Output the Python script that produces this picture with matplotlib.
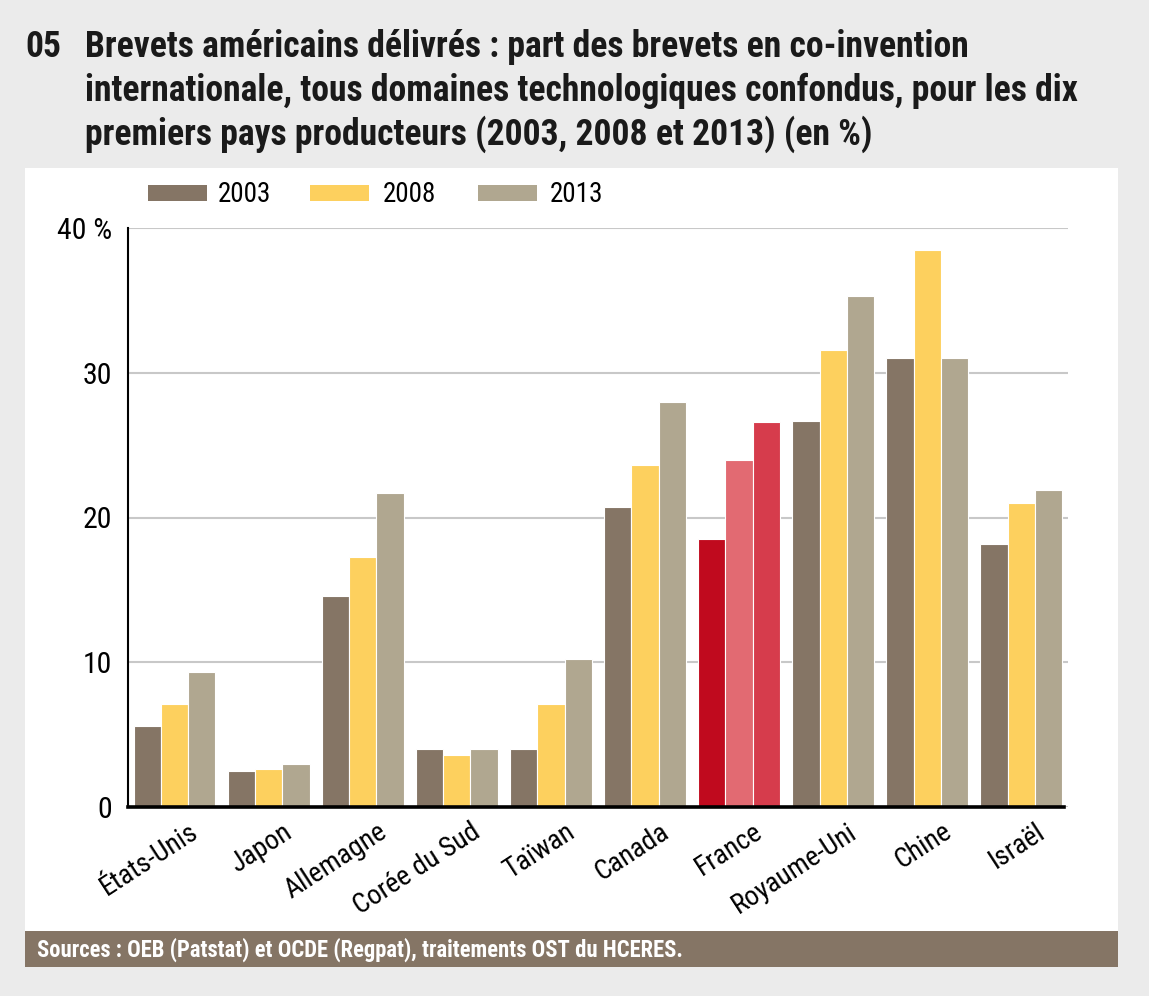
import matplotlib
matplotlib.use("Agg")
import matplotlib.pyplot as plt
from matplotlib import font_manager
from matplotlib.patches import Rectangle
from matplotlib.transforms import ScaledTranslation
import numpy as np

# === DONNÉES ===
pays = ["États-Unis", "Japon", "Allemagne", "Corée du Sud", "Taïwan",
        "Canada", "France", "Royaume-Uni", "Chine", "Israël"]
annees = ["2003", "2008", "2013"]
v2003 = [5.6, 2.5, 14.6, 4.0, 4.0, 20.7, 18.5, 26.7, 31.0, 18.2]
v2008 = [7.1, 2.6, 17.3, 3.6, 7.1, 23.6, 24.0, 31.6, 38.5, 21.0]
v2013 = [9.3, 3.0, 21.7, 4.0, 10.2, 28.0, 26.6, 35.3, 31.0, 21.9]
yticks = [0, 10, 20, 30, 40]
ylabels = ["0", "10", "20", "30", "40 %"]
titre_lignes = [
    "Brevets américains délivrés : part des brevets en co-invention",
    "internationale, tous domaines technologiques confondus, pour les dix",
    "premiers pays producteurs (2003, 2008 et 2013) (en %)",
]

# === STYLE ===
COLS = ["#857565", "#fdd05e", "#b0a790"]
COLS_FR = ["#c00a1e", "#e26a72", "#d63c4c"]
BG = "#ebebeb"

installed = {f.name for f in font_manager.fontManager.ttflist}
narrow = [f for f in ["Liberation Sans Narrow", "Roboto Condensed", "Arial Narrow"] if f in installed]
FAM = (narrow[:1] or ["Roboto"]) + ["DejaVu Sans"]
plt.rcParams["font.family"] = FAM

W, H = 1149, 996
fig = plt.figure(figsize=(W / 100, H / 100), dpi=100, facecolor=BG)

def px(x0, y0, x1, y1):
    return [x0 / W, 1 - y1 / H, (x1 - x0) / W, (y1 - y0) / H]

# panneau blanc + bandeau sources
fig.patches.append(Rectangle((25 / W, 1 - 931 / H), (1118 - 25) / W, (931 - 168) / H,
                             transform=fig.transFigure, facecolor="white", edgecolor="none", zorder=0))
fig.patches.append(Rectangle((25 / W, 1 - 967 / H), (1118 - 25) / W, (967 - 931) / H,
                             transform=fig.transFigure, facecolor="#857565", edgecolor="none", zorder=0))
fig.text(37 / W, 1 - 950 / H, "Sources : OEB (Patstat) et OCDE (Regpat), traitements OST du HCERES.",
         color="white", fontsize=16.3, fontweight="bold", va="center", ha="left")

# titre : une ligne par texte, largeur ajustée (~997 px pour la 2e ligne)
r = fig.canvas.get_renderer()
probe = fig.text(0, 0, titre_lignes[1], fontsize=24, fontweight="bold")
fs = 24 * 997 / probe.get_window_extent(r).width
probe.remove()
fig.text(25 / W, 1 - 57 / H, "05", fontsize=fs, fontweight="bold", va="baseline", ha="left",
         color="#1a1a1a")
for i, ligne in enumerate(titre_lignes):
    fig.text(85 / W, 1 - (57 + 44 * i) / H, ligne, fontsize=fs, fontweight="bold",
             va="baseline", ha="left", color="#1a1a1a")

# === GRAPHIQUE ===
ax = fig.add_axes(px(128, 228, 1068, 807))
ax.set_zorder(2)
ax.set_facecolor("none")
x = np.arange(len(pays))
w = 0.29
series = [v2003, v2008, v2013]
for k, vals in enumerate(series):
    cols = [COLS_FR[k] if p == "France" else COLS[k] for p in pays]
    ax.bar(x + (k - 1) * w, vals, width=w, color=cols, edgecolor="white",
           linewidth=0.8, zorder=3)

ax.set_ylim(0, 40)
ax.set_xlim(-0.494, 9.495)
ax.set_yticks(yticks)
ax.set_yticklabels(ylabels)
ax.yaxis.grid(True, color="#c8c8c8", linewidth=1.5, zorder=0)
ax.tick_params(axis="y", length=0, pad=11.5, labelsize=21.5)
ax.tick_params(axis="x", length=0, pad=8, labelsize=20)
for s in ["top", "right"]:
    ax.spines[s].set_visible(False)
ax.spines["left"].set_linewidth(1.5)
ax.spines["bottom"].set_linewidth(2.6)
ax.spines["bottom"].set_bounds(-0.494, 9.45)
ax.spines["bottom"].set_zorder(5)

ax.set_xticks(x)
ax.set_xticklabels(pays, rotation=33, ha="right", rotation_mode="anchor", va="top")
off = ScaledTranslation(0.14, 0, fig.dpi_scale_trans)
for lab in ax.get_xticklabels():
    lab.set_transform(lab.get_transform() + off)

# légende (placée à la main)
for c, lbl, xp, xt in zip(COLS, annees, [148, 310, 478], [218, 383, 550]):
    fig.patches.append(Rectangle((xp / W, 1 - 201 / H), 59 / W, 16 / H,
                                 transform=fig.transFigure, facecolor=c, edgecolor="none", zorder=1))
    fig.text(xt / W, 1 - 195 / H, lbl, fontsize=19.5, va="center", ha="left")

fig.savefig("out.png", dpi=100, facecolor=BG)
